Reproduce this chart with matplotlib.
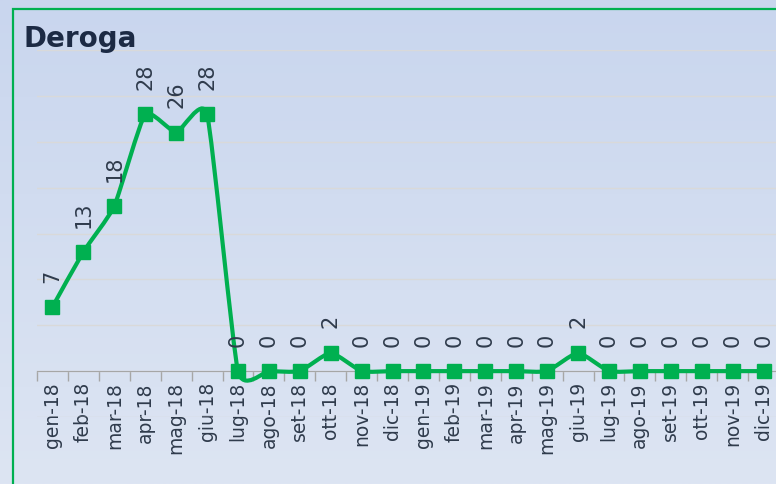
import numpy as np
import matplotlib.pyplot as plt
from matplotlib.path import Path
from matplotlib.patches import PathPatch, Rectangle

# dati
mesi = ['gen-18', 'feb-18', 'mar-18', 'apr-18', 'mag-18', 'giu-18',
        'lug-18', 'ago-18', 'set-18', 'ott-18', 'nov-18', 'dic-18',
        'gen-19', 'feb-19', 'mar-19', 'apr-19', 'mag-19', 'giu-19',
        'lug-19', 'ago-19', 'set-19', 'ott-19', 'nov-19', 'dic-19']
valori = [7, 13, 18, 28, 26, 28, 0, 0, 0, 2, 0, 0,
          0, 0, 0, 0, 0, 2, 0, 0, 0, 0, 0, 0]

verde = '#00b050'
testo = '#2f3b4c'

fig = plt.figure(figsize=(7.76, 4.84), dpi=100)

# sfondo sfumato
bg = fig.add_axes([0, 0, 1, 1], zorder=-10)
grad = np.linspace(0, 1, 256).reshape(-1, 1)
c_top = np.array([201, 214, 238]) / 255
c_bot = np.array([221, 229, 243]) / 255
img = c_top[None, None, :] * (1 - grad[:, :, None]) + c_bot[None, None, :] * grad[:, :, None]
bg.imshow(img, aspect='auto', extent=[0, 1, 0, 1])
bg.axis('off')

# bordo verde
fig.patches.append(Rectangle((13 / 776, -0.05), 1.1, 1 - 9 / 484 + 0.05,
                             transform=fig.transFigure, fill=False,
                             edgecolor=verde, linewidth=1.6))

ax = fig.add_axes([37 / 776, 1 - 417 / 484, (779 - 37) / 776, (417 - 50) / 484])
ax.set_facecolor('none')

x = np.arange(len(valori))
y = np.array(valori, dtype=float)

# linea smussata (stile Excel)
k = 1 / 12
verts = [(x[0], y[0])]
codes = [Path.MOVETO]
for i in range(len(x) - 1):
    p0 = np.array([x[max(i - 1, 0)], y[max(i - 1, 0)]])
    p1 = np.array([x[i], y[i]])
    p2 = np.array([x[i + 1], y[i + 1]])
    p3 = np.array([x[min(i + 2, len(x) - 1)], y[min(i + 2, len(x) - 1)]])
    c1 = p1 + (p2 - p0) * k
    c2 = p2 - (p3 - p1) * k
    verts += [tuple(c1), tuple(c2), tuple(p2)]
    codes += [Path.CURVE4] * 3
ax.add_patch(PathPatch(Path(verts, codes), facecolor='none', edgecolor=verde,
                       linewidth=3, capstyle='round', joinstyle='round', zorder=3))
ax.plot(x, y, linestyle='none', marker='s', markersize=10, color=verde, zorder=4)

for xi, yi in zip(x, valori):
    ax.annotate(str(yi), (xi, yi), xytext=(0, 17.5), textcoords='offset points',
                rotation=90, ha='center', va='bottom', fontsize=15, color=testo)

ax.set_xlim(-0.5, len(valori) - 0.5)
ax.set_ylim(-5, 35)
ax.set_yticks(np.arange(-5, 36, 5))
ax.yaxis.grid(True, color='#d9d9d9', linewidth=1)
ax.set_axisbelow(True)
ax.tick_params(axis='y', length=0, labelleft=False)

ax.set_xticks(np.arange(-0.5, len(valori), 1))
ax.set_xticklabels([])
ax.set_xticks(x, minor=True)
ax.set_xticklabels(mesi, minor=True)
ax.tick_params(axis='x', which='major', length=7, color='#a6a6a6', width=1, direction='out')
ax.tick_params(axis='x', which='minor', length=0, pad=8, labelrotation=90,
               labelsize=13.5, labelcolor=testo)

for s in ['top', 'right', 'left']:
    ax.spines[s].set_visible(False)
ax.spines['bottom'].set_position(('data', 0))
ax.spines['bottom'].set_color('#a6a6a6')

fig.text(23 / 776, 1 - 47 / 484, 'Deroga', fontsize=20, fontweight='bold',
         color='#1c2a44', ha='left', va='baseline')

fig.savefig('out.png', dpi=100)
